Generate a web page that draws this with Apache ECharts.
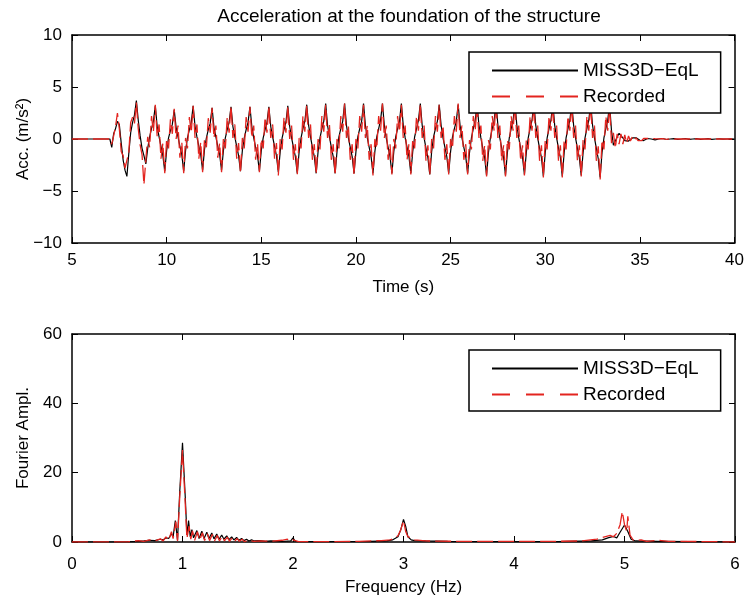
<!DOCTYPE html>
<html><head><meta charset="utf-8">
<script src="https://cdn.jsdelivr.net/npm/echarts@6/dist/echarts.min.js"></script>
<style>html,body{margin:0;padding:0;background:#fff}#c{width:747px;height:603px}</style>
</head><body><div id="c"></div>
<script>
// ---- Data ----
const seriesNames = ['MISS3D\u2212EqL', 'Recorded'];
const timeStart = 5, timeStep = 0.1; // sample grid of the time histories (s)
// Acceleration (m/s^2), one row per second (.0 ... .9), 5.0 s to 40.0 s
const accModel = [
 0,0,0,0,0,0,0,0,0,0,
 0,0,0,0,0,0,0,0,0,0,
 0,-0.8,0.5,1.0,1.7,1.4,-0.4,-2.0,-3.0,-3.6,
 -1.4,0.6,1.6,2.3,3.7,1.8,0.3,-0.9,-1.6,-2.4,
 -0.9,0.2,1.0,1.7,3.2,1.2,0.2,-0.7,-1.6,-3.1,
 -1.1,0.1,0.8,1.4,2.8,1.1,0.2,-0.7,-1.5,-3.1,
 -1.1,0.1,0.9,1.6,3.2,1.2,0.2,-0.7,-1.5,-3.0,
 -1.0,0.1,0.9,1.5,3.0,1.1,0.2,-0.7,-1.5,-3.0,
 -1.1,0.1,0.9,1.6,3.1,1.2,0.2,-0.7,-1.6,-3.1,
 -1.1,0.1,0.9,1.6,3.1,1.2,0.1,-0.8,-1.6,-3.1,
 -1.1,0.1,0.9,1.6,3.1,1.2,0.2,-0.7,-1.6,-3.2,
 -1.2,0.1,0.9,1.6,3.2,1.2,0.1,-0.8,-1.7,-3.3,
 -1.2,0.1,1.0,1.7,3.3,1.3,0.2,-0.8,-1.7,-3.3,
 -1.2,0.1,1.0,1.7,3.4,1.3,0.2,-0.8,-1.7,-3.3,
 -1.2,0.2,1.0,1.7,3.4,1.3,0.1,-0.8,-1.7,-3.3,
 -1.2,0.2,1.0,1.7,3.4,1.3,0.1,-0.8,-1.7,-3.3,
 -1.2,0.2,1.0,1.8,3.4,1.3,0.1,-0.8,-1.7,-3.3,
 -1.2,0.2,1.0,1.7,3.4,1.3,0.1,-0.8,-1.7,-3.3,
 -1.2,0.2,1.0,1.8,3.4,1.3,0.1,-0.9,-1.8,-3.4,
 -1.2,0.2,1.0,1.7,3.3,1.3,0.1,-0.8,-1.7,-3.3,
 -1.2,0.2,1.0,1.7,3.3,1.3,0.1,-0.8,-1.7,-3.3,
 -1.3,0.1,1.0,1.8,3.3,1.3,0.1,-0.9,-1.8,-3.5,
 -1.3,0.1,1.0,1.8,3.4,1.3,0.1,-0.9,-1.8,-3.5,
 -1.3,0.1,1.0,1.8,3.4,1.3,0.1,-0.9,-1.8,-3.4,
 -1.3,0.1,1.0,1.8,3.4,1.3,0.1,-0.9,-1.8,-3.6,
 -1.3,0.1,1.0,1.8,3.4,1.3,0.1,-0.9,-1.8,-3.6,
 -1.3,0.1,1.0,1.8,3.4,1.3,0.1,-0.9,-1.8,-3.5,
 -1.3,0.1,1.0,1.8,3.4,1.3,0.1,-0.9,-1.9,-3.7,
 -1.3,0.1,1.0,1.8,3.3,0.8,-0.6,-0.5,0.2,0.55,
 0.4,0.1,-0.15,-0.25,-0.2,-0.05,0.1,0.15,0.12,0.0,
 -0.12,-0.2,-0.15,-0.05,0.05,0.05,0.0,-0.05,-0.08,-0.05,
 0.0,0.05,0.05,0.0,-0.05,-0.05,0.0,0.05,0.04,0.0,
 -0.04,-0.05,0.0,0.04,0.05,0.0,-0.04,-0.03,0.0,0.03,
 0.04,0.0,-0.03,-0.04,0.0,0.03,0.03,0.0,-0.03,-0.03,
 0.0,0.03,0.02,0.0,-0.02,-0.03,0.0,0.02,0.02,0.0,
 0
];
const accRecorded = [
 0,0,0,0,0,0,0,0,0,0,
 0,0,0,0,0,0,0,0,0,0,
 0,-0.5,0.3,1.2,2.5,1.0,-1.2,-1.6,-2.8,-2.9,
 -1.3,1.6,2.1,1.5,3.5,1.0,-0.6,-1.5,-4.4,-2.0,
 0.2,-0.8,2.2,0.7,3.3,0.2,1.4,-1.9,-0.4,-3.3,
 0.0,-0.9,1.9,0.5,2.9,0.0,1.3,-1.8,-0.3,-3.3,
 0.1,-0.9,2.1,0.6,3.2,0.1,1.4,-1.9,-0.3,-3.2,
 0.0,-0.8,2.0,0.6,3.0,0.1,1.3,-1.8,-0.4,-3.2,
 0.1,-0.9,2.1,0.6,3.2,0.1,1.4,-1.9,-0.4,-3.3,
 0.1,-0.9,2.1,0.7,3.1,0.1,1.3,-2.0,-0.4,-3.2,
 0.0,-0.9,2.1,0.6,3.2,0.1,1.4,-1.9,-0.4,-3.5,
 0.0,-1.0,2.1,0.6,3.2,0.0,1.3,-2.0,-0.5,-3.5,
 0.1,-0.9,2.2,0.7,3.3,0.1,1.4,-2.0,-0.5,-3.4,
 0.0,-1.0,2.2,0.7,3.3,0.1,1.4,-2.0,-0.5,-3.5,
 0.0,-0.9,2.2,0.7,3.4,0.1,1.3,-2.0,-0.5,-3.5,
 0.0,-0.9,2.2,0.7,3.3,0.1,1.3,-2.0,-0.5,-3.5,
 0.0,-0.9,2.2,0.8,3.4,0.1,1.3,-2.0,-0.5,-3.4,
 0.0,-0.9,2.2,0.7,3.3,0.1,1.3,-2.0,-0.5,-3.4,
 0.0,-0.9,2.2,0.8,3.4,0.1,1.3,-2.1,-0.6,-3.5,
 0.0,-0.9,2.2,0.7,3.3,0.1,1.3,-2.0,-0.5,-3.4,
 0.0,-0.9,2.2,0.7,3.4,0.1,1.3,-2.0,-0.5,-3.4,
 -0.1,-1.0,2.2,0.8,3.3,0.1,1.3,-2.1,-0.6,-3.6,
 -0.1,-1.0,2.2,0.8,3.4,0.1,1.3,-2.1,-0.6,-3.6,
 -0.1,-1.0,2.2,0.8,3.4,0.1,1.3,-2.1,-0.6,-3.5,
 -0.1,-1.0,2.2,0.8,3.4,0.1,1.3,-2.1,-0.6,-3.7,
 -0.1,-1.0,2.2,0.8,3.4,0.1,1.3,-2.1,-0.6,-3.7,
 -0.1,-1.0,2.2,0.8,3.4,0.1,1.3,-2.1,-0.6,-3.6,
 -0.1,-1.0,2.2,0.8,3.4,0.1,1.3,-2.1,-0.7,-3.9,
 -0.1,-1.0,2.2,0.8,3.2,-0.4,0.6,-0.9,0.5,-0.5,
 0.5,-0.5,0.4,-0.4,0.3,-0.2,0.2,-0.1,0.1,-0.15,
 0.0,-0.15,0.05,-0.1,0.05,-0.05,0.05,0,0.03,0,
 0.02,-0.03,0.03,0,-0.03,0,0.02,0,-0.02,0,
 0,0.02,0,-0.02,0,0.02,0,-0.02,0,0.02,
 0,-0.02,0,0.02,0,-0.02,0,0.02,0,-0.02,
 0,0.02,0,-0.02,0,0.02,0,-0.02,0,0.02,
 0
];
// Fourier amplitude spectra
const freqModel = [0,0.5,0.6,0.65,0.7,0.75,0.8,0.825,0.85,0.875,0.9,0.915,0.935,0.955,0.975,1.0,1.025,1.04,1.055,1.07,1.085,1.1,1.13,1.15,1.175,1.195,1.22,1.24,1.265,1.285,1.31,1.33,1.355,1.375,1.4,1.42,1.445,1.465,1.49,1.51,1.535,1.555,1.58,1.6,1.625,1.65,1.7,1.75,1.8,1.9,1.98,2.0,2.02,2.2,2.5,2.7,2.85,2.9,2.95,2.975,3.0,3.02,3.04,3.07,3.1,3.2,3.4,3.6,4.0,4.4,4.7,4.8,4.85,4.9,4.93,4.96,5.0,5.03,5.06,5.1,5.3,5.6,6.0];
const ampModel  = [0,0.05,0.2,0.3,0.5,0.4,0.8,0.6,1.2,1.0,2.4,1.5,6.2,0.5,14.5,28.6,13,2.0,6.2,1.5,3.6,1.2,3.3,1.0,3.1,1.0,2.8,1.0,2.6,0.9,2.3,0.8,2.0,0.8,1.8,0.7,1.5,0.6,1.3,0.5,1.0,0.4,0.8,0.3,0.6,0.3,0.4,0.2,0.3,0.15,0.3,1.2,0.2,0.1,0.15,0.2,0.3,0.6,1.5,3.5,6.5,4.5,1.5,0.6,0.4,0.3,0.2,0.15,0.1,0.1,0.3,0.6,1.2,1.6,1.2,2.8,4.9,3.0,0.8,0.3,0.2,0.1,0];
const freqRecorded = [0,0.5,0.6,0.65,0.7,0.75,0.8,0.825,0.85,0.875,0.9,0.915,0.94,0.955,0.975,1.0,1.025,1.04,1.06,1.075,1.09,1.11,1.135,1.155,1.18,1.2,1.225,1.245,1.27,1.29,1.315,1.335,1.36,1.38,1.405,1.425,1.45,1.47,1.495,1.515,1.54,1.56,1.6,1.65,1.7,1.8,1.9,1.95,1.98,2.0,2.05,2.3,2.6,2.8,2.88,2.92,2.95,2.975,3.0,3.02,3.04,3.07,3.1,3.2,3.5,4.0,4.4,4.6,4.75,4.82,4.87,4.9,4.93,4.96,4.98,5.0,5.02,5.03,5.05,5.08,5.15,5.2,5.3,5.4,5.8,6.0];
const ampRecorded  = [0,0.05,0.4,0.2,0.6,0.3,0.9,0.3,1.5,0.5,3.0,1.0,5.9,0.3,13,26.5,11,1.0,4.6,0.8,3.2,0.5,3.0,0.5,2.7,0.4,2.4,0.4,2.2,0.3,1.9,0.3,1.7,0.3,1.4,0.2,1.2,0.2,1.0,0.2,0.8,0.1,0.5,0.2,0.3,0.2,0.5,0.8,0.3,0.6,0.1,0.1,0.2,0.4,0.6,1.2,1.8,3.5,6.2,3.0,1.5,1.2,0.6,0.3,0.2,0.2,0.2,0.3,0.8,1.5,1.9,1.5,2.5,5.0,8.8,5.0,3.0,7.4,2.0,0.5,0.6,0.2,0.5,0.2,0.1,0];
// Axis ticks
const timeTicks = {min: 5, max: 40, interval: 5};
const accTicks = {min: -10, max: 10, interval: 5};
const freqTicks = {min: 0, max: 6, interval: 1};
const ampTicks = {min: 0, max: 60, interval: 20};

// ---- Chart ----
const FONT = '"Liberation Sans", Arial, Helvetica, sans-serif';
const BLACK = '#000', RED = '#e3241f';
const toPairs = (xs, ys) => ys.map((v, i) => [xs[i], v]);
const times = accModel.map((_, i) => +(timeStart + i * timeStep).toFixed(2));
const minusFmt = v => (v < 0 ? '\u2212' + Math.abs(v) : String(v));

function xAx(grid, t, pos, name, labelMargin, nameGap) {
  const a = {
    gridIndex: grid, type: 'value', min: t.min, max: t.max, interval: t.interval, position: pos,
    axisLine: {onZero: false, lineStyle: {color: BLACK, width: 1.5}},
    axisTick: {inside: true, length: 6, lineStyle: {color: BLACK, width: 1}},
    axisLabel: {show: pos === 'bottom', color: BLACK, fontSize: 17, fontFamily: FONT, margin: labelMargin || 9, formatter: minusFmt},
    splitLine: {show: false}
  };
  if (name) Object.assign(a, {name, nameLocation: 'middle', nameGap, nameMoveOverlap: false,
    nameTextStyle: {color: BLACK, fontSize: 17, fontFamily: FONT}});
  return a;
}
function yAx(grid, t, pos, name) {
  const a = {
    gridIndex: grid, type: 'value', min: t.min, max: t.max, interval: t.interval, position: pos,
    axisLine: {onZero: false, lineStyle: {color: BLACK, width: 1.5}},
    axisTick: {inside: true, length: 6, lineStyle: {color: BLACK, width: 1}},
    axisLabel: {show: pos === 'left', color: BLACK, fontSize: 17, fontFamily: FONT, margin: 10, formatter: minusFmt},
    splitLine: {show: false}
  };
  if (name) Object.assign(a, {name, nameLocation: 'middle', nameGap: 40, nameMoveOverlap: false,
    nameTextStyle: {color: BLACK, fontSize: 17, fontFamily: FONT}});
  return a;
}
function leg(top) {
  return {
    data: [seriesNames[0], {name: seriesNames[1], lineStyle: {type: [18, 16]}}],
    orient: 'vertical', left: 469, top: top,
    backgroundColor: '#fff', borderColor: BLACK, borderWidth: 1.5, borderRadius: 0,
    padding: [9, 22, 7, 22], itemGap: 7, itemWidth: 86, itemHeight: 14,
    selectedMode: false,
    itemStyle: {opacity: 0},
    textStyle: {color: BLACK, fontSize: 19, fontFamily: FONT}
  };
}
const lineSeries = (name, data, xi, yi, color, dashed) => ({
  name, type: 'line', data, xAxisIndex: xi, yAxisIndex: yi,
  symbol: 'none', showSymbol: false, animation: false,
  lineStyle: {color, width: dashed ? 1.3 : 1.2, type: dashed ? [16, 5] : 'solid'},
  itemStyle: {color}
});

const option = {
  animation: false,
  backgroundColor: '#fff',
  title: {text: 'Acceleration at the foundation of the structure', left: 404, top: 2, textAlign: 'center',
    textStyle: {color: BLACK, fontSize: 19, fontWeight: 'normal', fontFamily: FONT}},
  grid: [
    {left: 72, top: 35, width: 663, height: 208},
    {left: 72, top: 334, width: 663, height: 208}
  ],
  xAxis: [
    xAx(0, timeTicks, 'bottom', 'Time (s)', 9, 36), xAx(0, timeTicks, 'top'),
    xAx(1, freqTicks, 'bottom', 'Frequency (Hz)', 14, 37), xAx(1, freqTicks, 'top')
  ],
  yAxis: [
    yAx(0, accTicks, 'left', 'Acc. (m/s\u00b2)'), yAx(0, accTicks, 'right'),
    yAx(1, ampTicks, 'left', 'Fourier Ampl.'), yAx(1, ampTicks, 'right')
  ],
  legend: [leg(52), leg(350)],
  series: [
    lineSeries(seriesNames[0], toPairs(times, accModel), 0, 0, BLACK, false),
    lineSeries(seriesNames[1], toPairs(times, accRecorded), 0, 0, RED, true),
    lineSeries(seriesNames[0], toPairs(freqModel, ampModel), 2, 2, BLACK, false),
    lineSeries(seriesNames[1], toPairs(freqRecorded, ampRecorded), 2, 2, RED, true)
  ]
};
const chart = echarts.init(document.getElementById('c'), null, {renderer: 'canvas'});
chart.setOption(option);
</script>
</body></html>
